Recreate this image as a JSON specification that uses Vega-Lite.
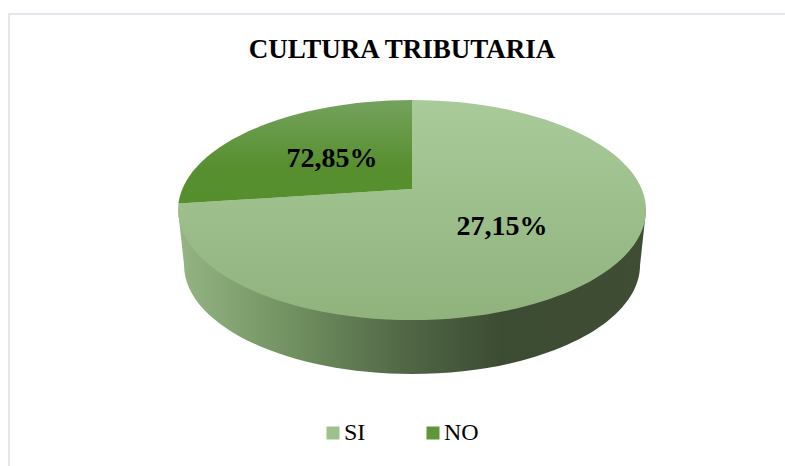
{
  "$schema": "https://vega.github.io/schema/vega-lite/v6.json",
  "width": 780,
  "height": 456,
  "autosize": "none",
  "padding": {"left": 9, "top": 14, "right": 0, "bottom": 0},
  "background": "white",
  "view": {"stroke": "#e3e7ee", "strokeWidth": 2, "fill": "white"},
  "title": {
    "text": "CULTURA TRIBUTARIA",
    "font": "Liberation Serif",
    "fontSize": 27,
    "fontWeight": "bold",
    "color": "#000000",
    "anchor": "middle",
    "baseline": "alphabetic",
    "dx": 3,
    "dy": 71,
    "offset": 0
  },
  "data": {
    "values": [
      {"category": "SI", "value": 27.15, "label": "27,15%"},
      {"category": "NO", "value": 72.85, "label": "72,85%"}
    ]
  },
  "encoding": {
    "x": {"field": "value", "type": "quantitative", "axis": null, "scale": {"domain": [-49.98, 159.68], "reverse": true, "nice": false, "zero": false}},
    "y": {"field": "value", "type": "quantitative", "axis": null, "scale": {"domain": [-136.15, 170.3], "nice": false, "zero": false}}
  },
  "layer": [
    {
      "transform": [{"filter": "datum.category === 'SI'"}],
      "mark": {
        "type": "point", "filled": true, "opacity": 1, "size": 4, "strokeWidth": 0,
        "shape": "M-324,-17 L-318,38 A228,109 0 0 0 138,38 L144,-17 Z",
        "color": {"gradient": "linear", "x1": 0, "y1": 0, "x2": 1, "y2": 0, "stops": [
          {"offset": 0, "color": "#94b583"},
          {"offset": 0.26, "color": "#6f8e5f"},
          {"offset": 0.5, "color": "#4f6544"},
          {"offset": 0.69, "color": "#3c4c33"},
          {"offset": 1, "color": "#3f4d34"}
        ]}
      }
    },
    {
      "transform": [{"filter": "datum.category === 'SI'"}],
      "mark": {
        "type": "point", "filled": true, "opacity": 1, "size": 4, "strokeWidth": 0,
        "shape": "M-90,-38 L-90,-127 A234,110 0 1 1 -323.6,-23.4 Z",
        "color": {"gradient": "linear", "x1": 0, "y1": 0, "x2": 0, "y2": 1, "stops": [{"offset": 0, "color": "#a9cb9a"}, {"offset": 1, "color": "#90b27d"}]}
      }
    },
    {
      "transform": [{"filter": "datum.category === 'NO'"}],
      "mark": {
        "type": "point", "filled": true, "opacity": 1, "size": 4, "strokeWidth": 0,
        "shape": "M80,30 L80,-59 A234,110 0 0 0 -153.6,44.6 Z",
        "color": {"gradient": "linear", "x1": 0, "y1": 0, "x2": 0, "y2": 1, "stops": [{"offset": 0, "color": "#74a25d"}, {"offset": 0.65, "color": "#578f2f"}, {"offset": 1, "color": "#558f2c"}]}
      }
    },
    {
      "mark": {"type": "point", "filled": true, "opacity": 1, "size": 0, "shape": "square", "strokeWidth": 0},
      "encoding": {
        "color": {
          "field": "category", "type": "nominal",
          "scale": {"domain": ["SI", "NO"], "range": ["#9dc08c", "#5f9639"]},
          "legend": {
            "title": null,
            "orient": "none",
            "direction": "horizontal",
            "legendX": 312,
            "legendY": 407,
            "symbolType": "square",
            "symbolSize": 169,
            "symbolStrokeWidth": 0,
            "labelFont": "Liberation Serif",
            "labelFontSize": 24,
            "labelColor": "#000000",
            "columnPadding": 55,
            "labelOffset": -1,
            "encode": {"symbols": {"update": {"fill": {"signal": "datum.value === 'SI' ? {gradient:'linear',x1:0,y1:0,x2:0,y2:1,stops:[{offset:0,color:'#abcc9c'},{offset:1,color:'#98ba87'}]} : {gradient:'linear',x1:0,y1:0,x2:0,y2:1,stops:[{offset:0,color:'#74a25d'},{offset:0.65,color:'#578f2f'},{offset:1,color:'#558f2c'}]}"}}}}
          }
        }
      }
    },
    {
      "mark": {"type": "text", "font": "Liberation Serif", "fontSize": 28, "fontWeight": "bold", "color": "#000000", "align": "center", "baseline": "middle"},
      "encoding": {"text": {"field": "label", "type": "nominal"}}
    }
  ]
}
